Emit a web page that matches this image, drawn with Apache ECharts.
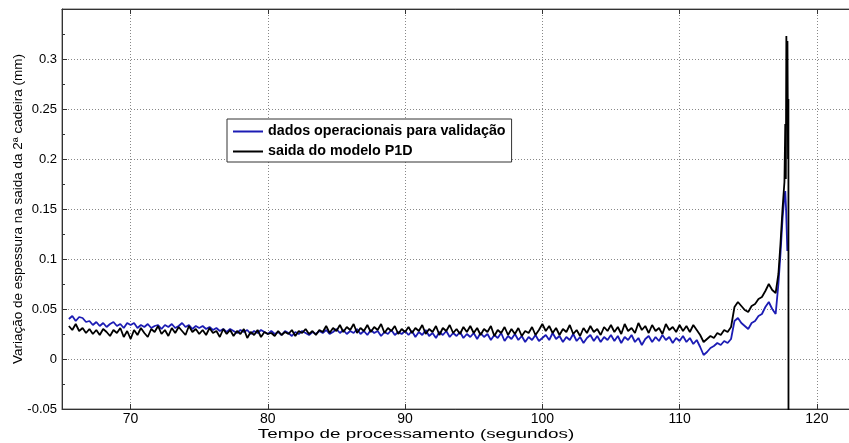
<!DOCTYPE html>
<html>
<head>
<meta charset="utf-8">
<script src="https://cdn.jsdelivr.net/npm/echarts@6/dist/echarts.min.js"></script>
<style>
html,body{margin:0;padding:0;background:#fff;}
#chart{width:849px;height:443px;}
</style>
</head>
<body>
<div id="chart"></div>
<script>
// Sampling of the main part of both series
const tStart = 65.5;
const tStep = 0.25;

// dados operacionais para validação (blue)
const blueMain = [
  0.040, 0.043, 0.038, 0.042, 0.041, 0.037, 0.038,
  0.034, 0.037, 0.033, 0.036, 0.032, 0.035, 0.037, 0.033, 0.035, 0.031, 0.036, 0.034,
  0.036, 0.031, 0.034, 0.032, 0.035, 0.031, 0.033, 0.034, 0.030, 0.034, 0.032, 0.035, 0.031, 0.033, 0.036, 0.032, 0.034, 0.030, 0.033, 0.031,
  0.033, 0.030, 0.032, 0.029, 0.031, 0.028, 0.030, 0.027, 0.030, 0.028, 0.026, 0.029, 0.027, 0.029, 0.025, 0.028, 0.026, 0.029, 0.027, 0.025,
  0.028, 0.025, 0.027, 0.024, 0.028, 0.026, 0.023, 0.027, 0.025, 0.028, 0.026, 0.024, 0.027, 0.025, 0.028, 0.026, 0.029, 0.025, 0.027, 0.030,
  0.026, 0.029, 0.025, 0.028, 0.026, 0.030, 0.025, 0.028, 0.024, 0.029, 0.026, 0.028, 0.023, 0.027, 0.025, 0.029, 0.024, 0.027, 0.025, 0.028,
  0.024, 0.028, 0.022, 0.027, 0.024, 0.029, 0.023, 0.026, 0.021, 0.027, 0.024, 0.028, 0.022, 0.026, 0.023, 0.027, 0.021, 0.025, 0.022, 0.026,
  0.020, 0.026, 0.022, 0.025, 0.019, 0.024, 0.021, 0.026, 0.018, 0.023, 0.020, 0.025, 0.019, 0.023, 0.017, 0.022, 0.019, 0.024, 0.018, 0.021,
  0.024, 0.019, 0.026, 0.020, 0.023, 0.017, 0.022, 0.019, 0.025, 0.018, 0.022, 0.016, 0.021, 0.024, 0.018, 0.023, 0.017, 0.022, 0.019, 0.024,
  0.018, 0.023, 0.016, 0.022, 0.019, 0.024, 0.017, 0.021, 0.014, 0.020, 0.023, 0.017, 0.022, 0.018, 0.024, 0.019, 0.022, 0.016, 0.021, 0.018,
  0.023, 0.017, 0.021, 0.015, 0.019,
  0.012, 0.004, 0.007, 0.011, 0.013, 0.016, 0.014, 0.018, 0.016, 0.020,
  0.038, 0.041, 0.036, 0.033, 0.030, 0.036, 0.038, 0.043, 0.045, 0.052, 0.057, 0.050, 0.045
];

// saida do modelo P1D (black)
const blackMain = [
  0.033, 0.029, 0.035, 0.028, 0.031, 0.026, 0.030,
  0.025, 0.029, 0.024, 0.030, 0.027, 0.023, 0.029, 0.026, 0.031, 0.022, 0.028, 0.020,
  0.029, 0.024, 0.031, 0.026, 0.022, 0.030, 0.027, 0.033, 0.025, 0.029, 0.023, 0.031, 0.026, 0.032, 0.028, 0.024, 0.033, 0.027, 0.030, 0.025,
  0.029, 0.024, 0.031, 0.026, 0.028, 0.022, 0.030, 0.025, 0.029, 0.023, 0.028, 0.025, 0.030, 0.021, 0.027, 0.024, 0.029, 0.022, 0.027, 0.025,
  0.026, 0.023, 0.028, 0.024, 0.027, 0.025, 0.029, 0.023, 0.028, 0.026, 0.030, 0.025, 0.028, 0.024, 0.029, 0.027, 0.033, 0.026, 0.031, 0.028,
  0.034, 0.027, 0.032, 0.029, 0.035, 0.026, 0.031, 0.028, 0.034, 0.027, 0.032, 0.029, 0.035, 0.026, 0.031, 0.028, 0.033, 0.025, 0.030, 0.027,
  0.032, 0.026, 0.031, 0.028, 0.034, 0.025, 0.030, 0.027, 0.033, 0.024, 0.031, 0.028, 0.034, 0.026, 0.030, 0.025, 0.032, 0.027, 0.033, 0.026,
  0.031, 0.024, 0.030, 0.027, 0.033, 0.023, 0.029, 0.026, 0.032, 0.024, 0.030, 0.025, 0.031, 0.023, 0.028, 0.026, 0.032, 0.024, 0.029, 0.035,
  0.028, 0.033, 0.026, 0.031, 0.024, 0.030, 0.027, 0.034, 0.025, 0.029, 0.023, 0.031, 0.026, 0.033, 0.027, 0.030, 0.024, 0.032, 0.028, 0.034,
  0.027, 0.032, 0.025, 0.035, 0.028, 0.031, 0.026, 0.036, 0.029, 0.033, 0.026, 0.034, 0.028, 0.031, 0.025, 0.035, 0.029, 0.032, 0.027, 0.034,
  0.028, 0.033, 0.027, 0.034, 0.029,
  0.024, 0.017, 0.020, 0.023, 0.021, 0.026, 0.024, 0.029, 0.027, 0.032,
  0.052, 0.057, 0.053, 0.049, 0.047, 0.053, 0.055, 0.060, 0.062, 0.068, 0.075, 0.069, 0.066
];

// final transient (irregular sampling)
const blueSpikeT = [117.2, 117.35, 117.5, 117.62, 117.7, 117.76, 117.85];
const blueSpikeV = [0.075, 0.105, 0.140, 0.160, 0.168, 0.150, 0.108];
const blackSpikeT = [117.2, 117.35, 117.5, 117.64, 117.7, 117.74, 117.78, 117.82, 117.86, 117.9, 117.93, 117.935];
const blackSpikeV = [0.085, 0.115, 0.150, 0.177, 0.235, 0.180, 0.323, 0.250, 0.318, 0.200, 0.260, -0.080];

const xTicks = [70, 80, 90, 100, 110, 120];
const seriesNames = ['dados operacionais para validação', 'saida do modelo P1D'];
const BLUE = '#1c1cb4';

function buildPairs(main, spikeT, spikeV) {
  const out = main.map((v, i) => [tStart + i * tStep, v]);
  spikeT.forEach((t, i) => out.push([t, spikeV[i]]));
  return out;
}

const FONT = '"Liberation Sans", Arial, sans-serif';
const chart = echarts.init(document.getElementById('chart'));

const xAxisBase = {
  type: 'value',
  min: 65,
  max: 123,
  axisLine: { show: true, onZero: false, lineStyle: { color: '#333', width: 1 } },
  axisTick: { show: true, inside: true, length: 5, customValues: xTicks, lineStyle: { color: '#333' } },
  splitLine: { show: false }
};

chart.setOption({
  animation: false,
  backgroundColor: '#fff',
  grid: { left: 62, top: 9, width: 796, height: 400, show: true, borderColor: '#666', borderWidth: 1, containLabel: false, outerBoundsMode: 'none' },
  legend: {
    orient: 'vertical',
    left: 227,
    top: 119,
    padding: [5, 6, 3, 6],
    icon: 'rect',
    itemWidth: 30,
    itemHeight: 2,
    itemGap: 5,
    backgroundColor: '#fff',
    borderColor: '#333',
    borderWidth: 1,
    textStyle: { fontFamily: FONT, fontSize: 14.3, fontWeight: 'bold', color: '#000', lineHeight: 15 },
    data: seriesNames
  },
  xAxis: [
    Object.assign({}, xAxisBase, {
      position: 'bottom',
      axisLabel: { show: true, customValues: xTicks, fontFamily: FONT, fontSize: 14, color: '#000', margin: 3 },
      splitLine: { show: true, lineStyle: { color: '#888', type: [1, 2], width: 1 } }
    }),
    Object.assign({}, xAxisBase, {
      position: 'top',
      axisLabel: { show: false }
    })
  ],
  yAxis: {
    type: 'value',
    min: -0.05,
    max: 0.35,
    interval: 0.05,
    name: 'Variação de espessura na saida da 2ª cadeira (mm)',
    nameLocation: 'middle',
    nameGap: 37,
    nameMoveOverlap: false,
    nameTextStyle: { fontFamily: FONT, fontSize: 13.5, color: '#000' },
    axisLine: { show: true, onZero: false, lineStyle: { color: '#333', width: 1 } },
    axisTick: { show: true, inside: true, length: 5, lineStyle: { color: '#333' } },
    minorTick: { show: true, splitNumber: 2, length: 3, lineStyle: { color: '#333' } },
    axisLabel: { showMaxLabel: false, fontFamily: FONT, fontSize: 13, color: '#000', margin: 5 },
    splitLine: { show: true, lineStyle: { color: '#888', type: [1, 2], width: 1 } }
  },
  series: [
    {
      name: seriesNames[0],
      type: 'line',
      xAxisIndex: 0,
      symbol: 'none',
      data: buildPairs(blueMain, blueSpikeT, blueSpikeV),
      lineStyle: { color: BLUE, width: 1.8 },
      itemStyle: { color: BLUE },
      z: 2
    },
    {
      name: seriesNames[1],
      type: 'line',
      xAxisIndex: 0,
      symbol: 'none',
      data: buildPairs(blackMain, blackSpikeT, blackSpikeV),
      lineStyle: { color: '#000', width: 1.8 },
      itemStyle: { color: '#000' },
      z: 3
    }
  ],
  graphic: [{
    type: 'text',
    x: 416,
    y: 428,
    scaleX: 1.45,
    style: {
      text: 'Tempo de processamento (segundos)',
      font: '13px ' + FONT,
      fill: '#000',
      textAlign: 'center'
    }
  }]
});
</script>
</body>
</html>
